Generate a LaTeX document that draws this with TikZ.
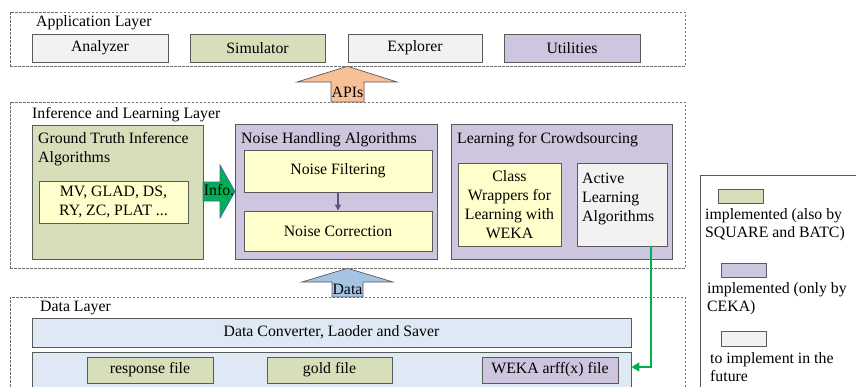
\documentclass[tikz,border=0pt]{standalone}
\usepackage{fontspec}
\setmainfont{Liberation Serif}
\usetikzlibrary{arrows.meta}

\definecolor{boxline}{RGB}{90,90,90}
\definecolor{layerline}{RGB}{110,110,110}
\definecolor{todogray}{RGB}{242,242,242}
\definecolor{oldgreen}{RGB}{215,222,186}
\definecolor{cekapurple}{RGB}{206,198,222}
\definecolor{algoyellow}{RGB}{255,255,204}
\definecolor{datablue}{RGB}{222,233,245}
\definecolor{apiorange}{RGB}{247,192,150}
\definecolor{dataarrow}{RGB}{165,196,228}
\definecolor{infogreen}{RGB}{0,176,80}
\definecolor{infoedge}{RGB}{70,100,170}
\definecolor{flowpurple}{RGB}{100,78,130}

\tikzset{
  layer/.style={draw=layerline, line width=0.6pt, dash pattern=on 2.5pt off 1.5pt, inner sep=0pt},
  block/.style={draw=boxline, line width=0.9pt, inner sep=1pt, align=center},
  title/.style={anchor=west, inner sep=0pt, align=left},
  fat/.style={draw=boxline, line width=0.7pt},
}

\begin{document}
\begin{tikzpicture}[x=1pt, y=-1pt, font=\fontsize{15.8}{19}\selectfont]

\useasboundingbox (0,0) rectangle (856,386);
\clip (0,0) rectangle (856,386);

% application layer
\node[layer, minimum width=675pt, minimum height=54pt] (applayer) at (347.5,39) {};
\node[title] (apptitle) at (36,23) {Application Layer};
\node[block, fill=todogray, minimum width=136pt, minimum height=28pt] (analyzer) at (100,48) {Analyzer};
\node[block, fill=oldgreen, minimum width=135pt, minimum height=28pt] (simulator) at (257.5,48) {Simulator};
\node[block, fill=todogray, minimum width=134pt, minimum height=28pt] (explorer) at (415,48) {Explorer};
\node[block, fill=cekapurple, minimum width=136pt, minimum height=28pt] (utilities) at (572,48) {Utilities};

% inference and learning layer
\node[layer, minimum width=675pt, minimum height=166pt] (inflayer) at (347.5,185) {};
\node[title] (inftitle) at (32,115) {Inference and Learning Layer};

\node[block, fill=oldgreen, minimum width=171pt, minimum height=134pt] (truth) at (117.5,192) {};
\node[title] (truthtitle) at (38,149.5) {Ground Truth Inference\\Algorithms};
\node[block, fill=algoyellow, minimum width=149pt, minimum height=42pt] (algos) at (113.5,202) {MV, GLAD, DS,\\RY, ZC, PLAT ...};

\node[block, fill=cekapurple, minimum width=202pt, minimum height=135pt] (noise) at (336,191.5) {};
\node[title] (noisetitle) at (241,140) {Noise Handling Algorithms};
\node[block, fill=algoyellow, minimum width=188pt, minimum height=42pt] (filter) at (338,171) {Noise Filtering};
\node[block, fill=algoyellow, minimum width=188pt, minimum height=40pt] (correct) at (338,231) {Noise Correction};
\draw[flowpurple, line width=1.2pt, -{Triangle[length=6pt, width=6pt]}] (filter) -- (correct);

\node[block, fill=cekapurple, minimum width=221pt, minimum height=135pt] (learn) at (561.5,191.5) {};
\node[title] (learntitle) at (457,140) {Learning for Crowdsourcing};
\node[block, fill=algoyellow, minimum width=103pt, minimum height=83pt] (wrappers) at (509.5,204.5) {Class\\Wrappers for\\Learning with\\WEKA};
\node[block, fill=todogray, minimum width=90pt, minimum height=83pt] (active) at (622,204.5) {};
\node[title] (activetitle) at (582,199) {Active\\Learning\\Algorithms};

% info arrow
\draw[infoedge, fill=infogreen, line width=0.7pt] (203,182) -- (220,182) -- (220,165) -- (235,191.5)
  -- (220,218) -- (220,201) -- (203,201) -- cycle;
\node[inner sep=0pt] (info) at (219,190) {Info.};

% data layer
\node[layer, minimum width=675pt, minimum height=123pt] (datalayer) at (347.5,358.5) {};
\node[title] (datatitle) at (40,308) {Data Layer};
\node[block, fill=datablue, minimum width=599pt, minimum height=29pt] (converter) at (331.5,332.5) {Data Converter, Laoder and Saver};
\node[block, fill=datablue, minimum width=599pt, minimum height=43pt] (files) at (331.5,373.5) {};
\node[block, fill=oldgreen, minimum width=126pt, minimum height=26pt] (response) at (150,370) {response file};
\node[block, fill=oldgreen, minimum width=125pt, minimum height=26pt] (gold) at (329.5,370) {gold file};
\node[block, fill=cekapurple, minimum width=136pt, minimum height=26pt] (arff) at (550,370) {WEKA arff(x) file};

% API and data arrows
\draw[fat, fill=apiorange] (331,102) -- (331,82) -- (297,82) -- (applayer.south) -- (397,82)
  -- (364,82) -- (364,102) -- cycle;
\node[inner sep=0pt] (apis) at (347.5,92) {APIs};
\draw[fat, fill=dataarrow] (332,297) -- (332,282) -- (302,282) -- (inflayer.south) -- (393,282)
  -- (363,282) -- (363,297) -- cycle;
\node[inner sep=0pt] (data) at (347.5,289) {Data};

% active learning to data files
\coordinate (turn) at (651,367);
\draw[infogreen, line width=1.6pt, -{Triangle[length=8pt, width=9pt]}] (active.south -| turn) -- (turn) -- (turn -| files.east);

% legend
\node[draw=boxline, line width=0.8pt, minimum width=200pt, minimum height=245pt] (legend) at (800,297.5) {};
\node[block, fill=oldgreen, minimum width=45pt, minimum height=14pt] (keygreen) at (740.5,196) {};
\node[title, font=\fontsize{15.8}{18}\selectfont] (textgreen) at (705,225) {implemented (also by\\SQUARE and BATC)};
\node[block, fill=cekapurple, minimum width=45pt, minimum height=14pt] (keypurple) at (743.5,270) {};
\node[title, font=\fontsize{15.8}{18}\selectfont] (textpurple) at (707,298.5) {implemented (only by\\CEKA)};
\node[block, fill=todogray, minimum width=45pt, minimum height=15pt] (keygray) at (743.5,338.5) {};
\node[title, font=\fontsize{15.8}{18}\selectfont] (textgray) at (710,367) {to implement in the\\future};

\end{tikzpicture}
\end{document}
